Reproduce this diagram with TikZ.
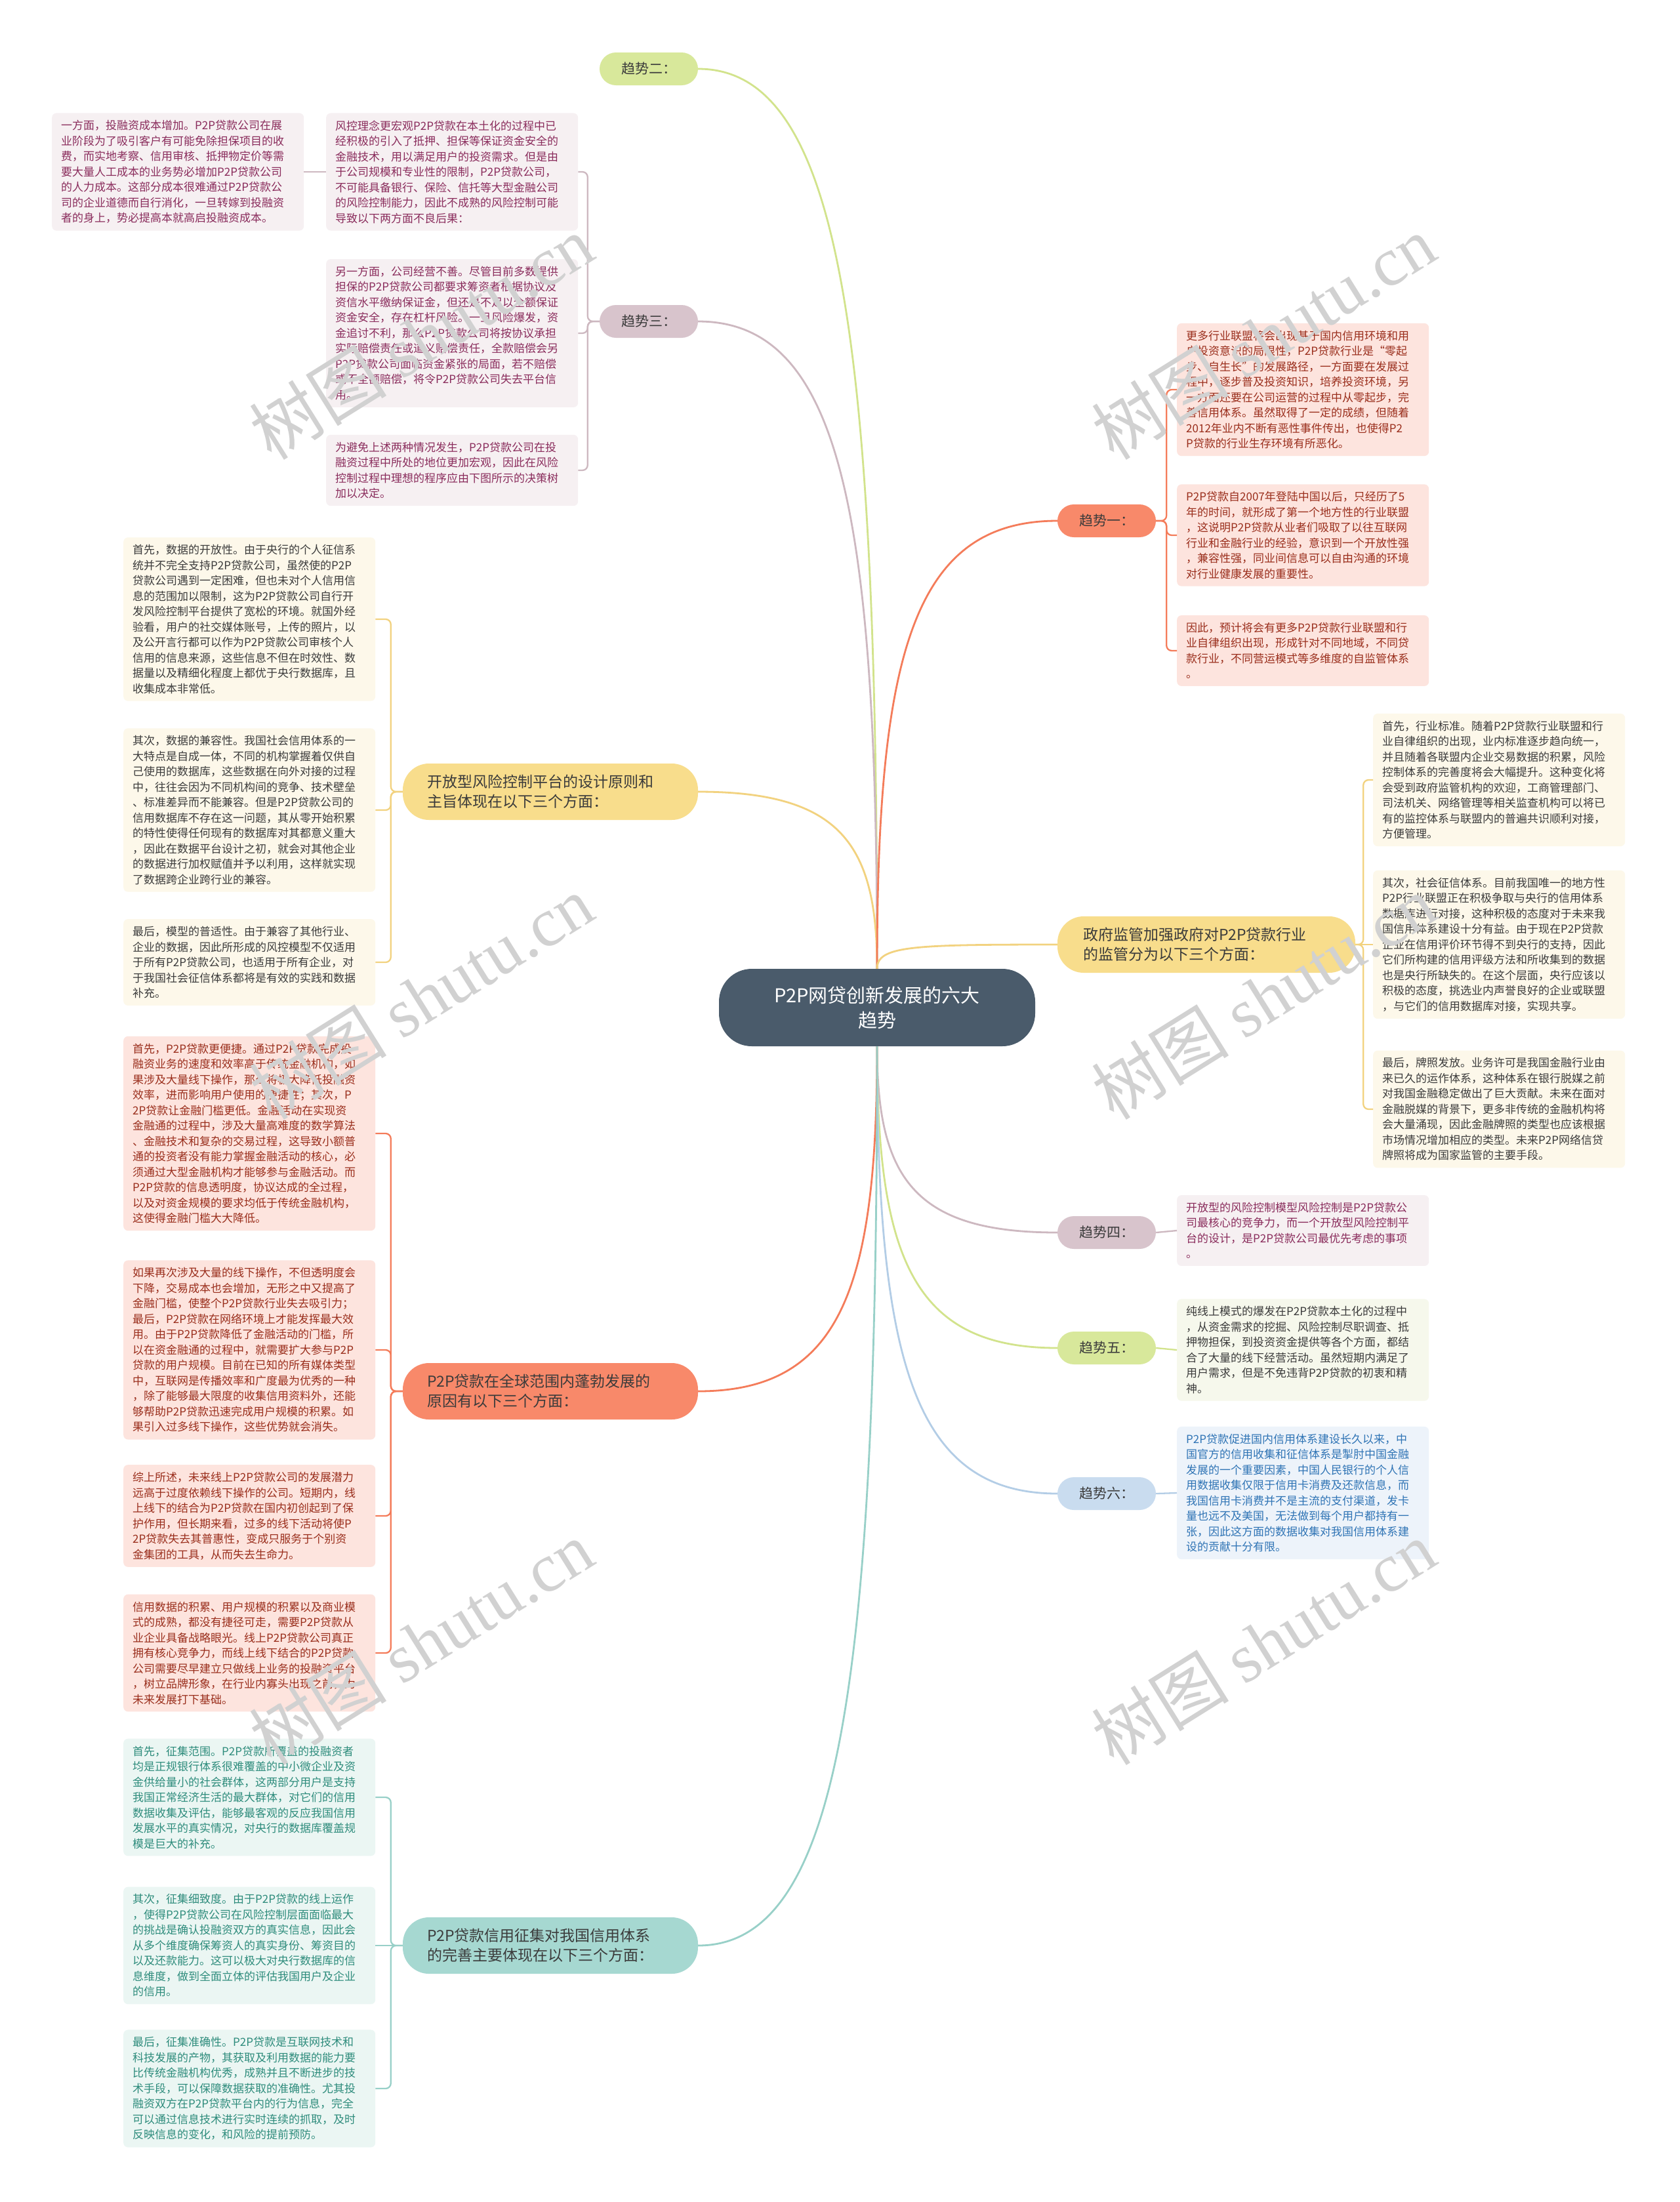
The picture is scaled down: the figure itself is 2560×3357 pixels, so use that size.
\documentclass[tikz,border=0pt]{standalone}
\usepackage{fontspec}
\setmainfont{Noto Sans CJK SC}
\newfontfamily\wmserif{Liberation Serif}
\definecolor{rootc}{HTML}{4A5B6B}
\definecolor{orangeN}{HTML}{F8896A}
\definecolor{orangeL}{HTML}{F47C5A}
\definecolor{orangeBg}{HTML}{FDE4DE}
\definecolor{orangeTx}{HTML}{9A2E1C}
\definecolor{yellowN}{HTML}{F8DD8C}
\definecolor{yellowL}{HTML}{F2D27F}
\definecolor{yellowBg}{HTML}{FDF8EA}
\definecolor{darkTx}{HTML}{3B3B3B}
\definecolor{mauveN}{HTML}{D8C4CC}
\definecolor{mauveL}{HTML}{CDB8C0}
\definecolor{mauveBg}{HTML}{F6F0F2}
\definecolor{mauveTx}{HTML}{8A2C5C}
\definecolor{greenN}{HTML}{D8E89B}
\definecolor{greenL}{HTML}{D2E38C}
\definecolor{greenBg}{HTML}{F6F8EC}
\definecolor{blueN}{HTML}{C9DCEF}
\definecolor{blueL}{HTML}{B3CDE6}
\definecolor{blueBg}{HTML}{EDF3FA}
\definecolor{blueTx}{HTML}{2F74B5}
\definecolor{tealN}{HTML}{A6D8D1}
\definecolor{tealL}{HTML}{98D0C8}
\definecolor{tealBg}{HTML}{EBF6F3}
\definecolor{tealTx}{HTML}{2E8C7C}
\begin{document}
\begin{tikzpicture}[x=1pt, y=-1pt,
    root/.style={fill=rootc, text=white, rounded corners=50pt, minimum width=482pt, minimum height=118pt,
      text width=350pt, align=center, font=\fontsize{29}{38}\selectfont},
    trend/.style={rounded corners=25pt, minimum width=150pt, minimum height=50pt, text=darkTx,
      font=\fontsize{21}{26}\selectfont},
    topic/.style={rounded corners=40pt, minimum width=450pt, minimum height=86pt, text width=376pt,
      align=left, text=darkTx, font=\fontsize{23}{30}\selectfont},
    leaf/.style={rounded corners=7pt, text width=356pt, inner xsep=14pt, inner ysep=11pt, align=left,
      font=\fontsize{17}{23.5}\selectfont},
    redleaf/.style={leaf, fill=orangeBg, text=orangeTx},
    yelleaf/.style={leaf, fill=yellowBg, text=darkTx},
    plumleaf/.style={leaf, fill=mauveBg, text=mauveTx},
    grnleaf/.style={leaf, fill=greenBg, text=darkTx},
    bluleaf/.style={leaf, fill=blueBg, text=blueTx},
    tealleaf/.style={leaf, fill=tealBg, text=tealTx},
    link/.style={line width=2.8pt},
    bracket/.style={line width=2.3pt, rounded corners=8pt},
    wmark/.style={rotate=32, text=black!18, font=\fontsize{105}{110}\selectfont}]

\useasboundingbox (0,0) rectangle (2560,3357);
\clip (0,0) rectangle (2560,3357);
\fill[white] (0,0) rectangle (2560,3357);

\node[root] (ctr) at (1337,1536) {P2P网贷创新发展的六大\\趋势};

% right side
\node[trend, fill=orangeN] (t1) at (1687,794) {趋势一：};
\node[topic, fill=yellowN, minimum width=454pt] (gov) at (1839,1440) {政府监管加强政府对P2P贷款行业\\的监管分为以下三个方面：};
\node[trend, fill=mauveN] (t4) at (1687,1879) {趋势四：};
\node[trend, fill=greenN] (t5) at (1687,2055) {趋势五：};
\node[trend, fill=blueN] (t6) at (1687,2277) {趋势六：};

% left side
\node[trend, fill=greenN] (t2) at (989,105) {趋势二：};
\node[trend, fill=mauveN] (t3) at (989,490) {趋势三：};
\node[topic, fill=yellowN] (open) at (839,1207) {开放型风险控制平台的设计原则和\\主旨体现在以下三个方面：};
\node[topic, fill=orangeN] (glob) at (839,2121) {P2P贷款在全球范围内蓬勃发展的\\原因有以下三个方面：};
\node[topic, fill=tealN] (cred) at (839,2966) {P2P贷款信用征集对我国信用体系\\的完善主要体现在以下三个方面：};

\node[redleaf, anchor=west] (c1a) at (1794,594) {更多行业联盟将会出现基于国内信用环境和用\\户投资意识的局限性，P2P贷款行业是“零起\\步、自生长”的发展路径，一方面要在发展过\\程中，逐步普及投资知识，培养投资环境，另\\一方面还要在公司运营的过程中从零起步，完\\善信用体系。虽然取得了一定的成绩，但随着\\2012年业内不断有恶性事件传出，也使得P2\\P贷款的行业生存环境有所恶化。};
\node[redleaf, anchor=west] (c1b) at (1794,816) {P2P贷款自2007年登陆中国以后，只经历了5\\年的时间，就形成了第一个地方性的行业联盟\\，这说明P2P贷款从业者们吸取了以往互联网\\行业和金融行业的经验，意识到一个开放性强\\，兼容性强，同业间信息可以自由沟通的环境\\对行业健康发展的重要性。};
\node[redleaf, anchor=west] (c1c) at (1794,992) {因此，预计将会有更多P2P贷款行业联盟和行\\业自律组织出现，形成针对不同地域，不同贷\\款行业，不同营运模式等多维度的自监管体系\\。};

\node[yelleaf, anchor=west] (c2a) at (2093,1189) {首先，行业标准。随着P2P贷款行业联盟和行\\业自律组织的出现，业内标准逐步趋向统一，\\并且随着各联盟内企业交易数据的积累，风险\\控制体系的完善度将会大幅提升。这种变化将\\会受到政府监管机构的欢迎，工商管理部门、\\司法机关、网络管理等相关监查机构可以将已\\有的监控体系与联盟内的普遍共识顺利对接，\\方便管理。};
\node[yelleaf, anchor=west] (c2b) at (2093,1440) {其次，社会征信体系。目前我国唯一的地方性\\P2P行业联盟正在积极争取与央行的信用体系\\数据库进行对接，这种积极的态度对于未来我\\国信用体系建设十分有益。由于现在P2P贷款\\企业在信用评价环节得不到央行的支持，因此\\它们所构建的信用评级方法和所收集到的数据\\也是央行所缺失的。在这个层面，央行应该以\\积极的态度，挑选业内声誉良好的企业或联盟\\，与它们的信用数据库对接，实现共享。};
\node[yelleaf, anchor=west] (c2c) at (2093,1691) {最后，牌照发放。业务许可是我国金融行业由\\来已久的运作体系，这种体系在银行脱媒之前\\对我国金融稳定做出了巨大贡献。未来在面对\\金融脱媒的背景下，更多非传统的金融机构将\\会大量涌现，因此金融牌照的类型也应该根据\\市场情况增加相应的类型。未来P2P网络信贷\\牌照将成为国家监管的主要手段。};

\node[plumleaf, anchor=west] (c7) at (1794,1876) {开放型的风险控制模型风险控制是P2P贷款公\\司最核心的竞争力，而一个开放型风险控制平\\台的设计，是P2P贷款公司最优先考虑的事项\\。};
\node[grnleaf, anchor=west] (c8) at (1794,2058) {纯线上模式的爆发在P2P贷款本土化的过程中\\，从资金需求的挖掘、风险控制尽职调查、抵\\押物担保，到投资资金提供等各个方面，都结\\合了大量的线下经营活动。虽然短期内满足了\\用户需求，但是不免违背P2P贷款的初衷和精\\神。};
\node[bluleaf, anchor=west] (c9) at (1794,2276) {P2P贷款促进国内信用体系建设长久以来，中\\国官方的信用收集和征信体系是掣肘中国金融\\发展的一个重要因素，中国人民银行的个人信\\用数据收集仅限于信用卡消费及还款信息，而\\我国信用卡消费并不是主流的支付渠道，发卡\\量也远不及美国，无法做到每个用户都持有一\\张，因此这方面的数据收集对我国信用体系建\\设的贡献十分有限。};

\node[plumleaf, anchor=west] (c3a) at (497,262) {风控理念更宏观P2P贷款在本土化的过程中已\\经积极的引入了抵押、担保等保证资金安全的\\金融技术，用以满足用户的投资需求。但是由\\于公司规模和专业性的限制，P2P贷款公司，\\不可能具备银行、保险、信托等大型金融公司\\的风险控制能力，因此不成熟的风险控制可能\\导致以下两方面不良后果：};
\node[plumleaf, anchor=west] (c3a1) at (79,262) {一方面，投融资成本增加。P2P贷款公司在展\\业阶段为了吸引客户有可能免除担保项目的收\\费，而实地考察、信用审核、抵押物定价等需\\要大量人工成本的业务势必增加P2P贷款公司\\的人力成本。这部分成本很难通过P2P贷款公\\司的企业道德而自行消化，一旦转嫁到投融资\\者的身上，势必提高本就高启投融资成本。};
\node[plumleaf, anchor=west] (c3b) at (497,508) {另一方面，公司经营不善。尽管目前多数提供\\担保的P2P贷款公司都要求筹资者根据协议及\\资信水平缴纳保证金，但还是不足以全额保证\\资金安全，存在杠杆风险。一旦风险爆发，资\\金追讨不利，那么P2P贷款公司将按协议承担\\实际赔偿责任或道义赔偿责任，全款赔偿会另\\P2P贷款公司面临资金紧张的局面，若不赔偿\\或不全额赔偿，将令P2P贷款公司失去平台信\\用。};
\node[plumleaf, anchor=west] (c3c) at (497,717) {为避免上述两种情况发生，P2P贷款公司在投\\融资过程中所处的地位更加宏观，因此在风险\\控制过程中理想的程序应由下图所示的决策树\\加以决定。};

\node[yelleaf, anchor=west] (c4a) at (188,944) {首先，数据的开放性。由于央行的个人征信系\\统并不完全支持P2P贷款公司，虽然使的P2P\\贷款公司遇到一定困难，但也未对个人信用信\\息的范围加以限制，这为P2P贷款公司自行开\\发风险控制平台提供了宽松的环境。就国外经\\验看，用户的社交媒体账号，上传的照片，以\\及公开言行都可以作为P2P贷款公司审核个人\\信用的信息来源，这些信息不但在时效性、数\\据量以及精细化程度上都优于央行数据库，且\\收集成本非常低。};
\node[yelleaf, anchor=west] (c4b) at (188,1235) {其次，数据的兼容性。我国社会信用体系的一\\大特点是自成一体，不同的机构掌握着仅供自\\己使用的数据库，这些数据在向外对接的过程\\中，往往会因为不同机构间的竞争、技术壁垒\\、标准差异而不能兼容。但是P2P贷款公司的\\信用数据库不存在这一问题，其从零开始积累\\的特性使得任何现有的数据库对其都意义重大\\，因此在数据平台设计之初，就会对其他企业\\的数据进行加权赋值并予以利用，这样就实现\\了数据跨企业跨行业的兼容。};
\node[yelleaf, anchor=west] (c4c) at (188,1467) {最后，模型的普适性。由于兼容了其他行业、\\企业的数据，因此所形成的风控模型不仅适用\\于所有P2P贷款公司，也适用于所有企业，对\\于我国社会征信体系都将是有效的实践和数据\\补充。};

\node[redleaf, anchor=west] (c5a) at (188,1728) {首先，P2P贷款更便捷。通过P2P贷款完成投\\融资业务的速度和效率高于传统金融机构，如\\果涉及大量线下操作，那么将极大降低投融资\\效率，进而影响用户使用的便捷性；其次，P\\2P贷款让金融门槛更低。金融活动在实现资\\金融通的过程中，涉及大量高难度的数学算法\\、金融技术和复杂的交易过程，这导致小额普\\通的投资者没有能力掌握金融活动的核心，必\\须通过大型金融机构才能够参与金融活动。而\\P2P贷款的信息透明度，协议达成的全过程，\\以及对资金规模的要求均低于传统金融机构，\\这使得金融门槛大大降低。};
\node[redleaf, anchor=west] (c5b) at (188,2058) {如果再次涉及大量的线下操作，不但透明度会\\下降，交易成本也会增加，无形之中又提高了\\金融门槛，使整个P2P贷款行业失去吸引力；\\最后，P2P贷款在网络环境上才能发挥最大效\\用。由于P2P贷款降低了金融活动的门槛，所\\以在资金融通的过程中，就需要扩大参与P2P\\贷款的用户规模。目前在已知的所有媒体类型\\中，互联网是传播效率和广度最为优秀的一种\\，除了能够最大限度的收集信用资料外，还能\\够帮助P2P贷款迅速完成用户规模的积累。如\\果引入过多线下操作，这些优势就会消失。};
\node[redleaf, anchor=west] (c5c) at (188,2311) {综上所述，未来线上P2P贷款公司的发展潜力\\远高于过度依赖线下操作的公司。短期内，线\\上线下的结合为P2P贷款在国内初创起到了保\\护作用，但长期来看，过多的线下活动将使P\\2P贷款失去其普惠性，变成只服务于个别资\\金集团的工具，从而失去生命力。};
\node[redleaf, anchor=west] (c5d) at (188,2520) {信用数据的积累、用户规模的积累以及商业模\\式的成熟，都没有捷径可走，需要P2P贷款从\\业企业具备战略眼光。线上P2P贷款公司真正\\拥有核心竞争力，而线上线下结合的P2P贷款\\公司需要尽早建立只做线上业务的投融资平台\\，树立品牌形象，在行业内寡头出现之前，为\\未来发展打下基础。};

\node[tealleaf, anchor=west] (c6a) at (188,2740) {首先，征集范围。P2P贷款所覆盖的投融资者\\均是正规银行体系很难覆盖的中小微企业及资\\金供给量小的社会群体，这两部分用户是支持\\我国正常经济生活的最大群体，对它们的信用\\数据收集及评估，能够最客观的反应我国信用\\发展水平的真实情况，对央行的数据库覆盖规\\模是巨大的补充。};
\node[tealleaf, anchor=west] (c6b) at (188,2966) {其次，征集细致度。由于P2P贷款的线上运作\\，使得P2P贷款公司在风险控制层面面临最大\\的挑战是确认投融资双方的真实信息，因此会\\从多个维度确保筹资人的真实身份、筹资目的\\以及还款能力。这可以极大对央行数据库的信\\息维度，做到全面立体的评估我国用户及企业\\的信用。};
\node[tealleaf, anchor=west] (c6c) at (188,3184) {最后，征集准确性。P2P贷款是互联网技术和\\科技发展的产物，其获取及利用数据的能力要\\比传统金融机构优秀，成熟并且不断进步的技\\术手段，可以保障数据获取的准确性。尤其投\\融资双方在P2P贷款平台内的行为信息，完全\\可以通过信息技术进行实时连续的抓取，及时\\反映信息的变化，和风险的提前预防。};

% branches out of the root
\draw[link, greenL] (ctr.north) .. controls +(0,-960) and +(218,0) .. (t2.east);
\draw[link, mauveL] (ctr.north) .. controls +(0,-691) and +(218,0) .. (t3.east);
\draw[link, yellowL] (ctr.north) .. controls +(0,-189) and +(218,0) .. (open.east);
\draw[link, orangeL] (ctr.north) .. controls +(0,-478) and +(-220,0) .. (t1.west);
\draw[link, yellowL] (ctr.north) .. controls +(0,-35) and +(-220,0) .. (gov.west);
\draw[link, mauveL] (ctr.south) .. controls +(0,199) and +(-220,0) .. (t4.west);
\draw[link, greenL] (ctr.south) .. controls +(0,322) and +(-220,0) .. (t5.west);
\draw[link, blueL] (ctr.south) .. controls +(0,477) and +(-220,0) .. (t6.west);
\draw[link, orangeL] (ctr.south) .. controls +(0,368) and +(218,0) .. (glob.east);
\draw[link, tealL] (ctr.south) .. controls +(0,960) and +(218,0) .. (cred.east);

% brackets to the leaves
\foreach \leaf in {c1a,c1b,c1c}
  \draw[bracket, orangeL] (t1.east) -- ++(16,0) |- (\leaf.west);
\draw[bracket, yellowL] (gov.east) -- ++(12,0) |- (c2a.west);
\draw[bracket, yellowL] (gov.east) -- (c2b.west);
\draw[bracket, yellowL] (gov.east) -- ++(12,0) |- (c2c.west);
\draw[bracket, mauveL] (t4.east) -- (c7.west);
\draw[bracket, greenL] (t5.east) -- (c8.west);
\draw[bracket, blueL] (t6.east) -- (c9.west);
\foreach \leaf in {c3a,c3b,c3c}
  \draw[bracket, mauveL] (t3.west) -- ++(-18,0) |- (\leaf.east);
\draw[bracket, mauveL] (c3a.west) -- (c3a1.east);
\foreach \leaf in {c4a,c4b,c4c}
  \draw[bracket, yellowL] (open.west) -- ++(-18,0) |- (\leaf.east);
\foreach \leaf in {c5a,c5b,c5c,c5d}
  \draw[bracket, orangeL] (glob.west) -- ++(-18,0) |- (\leaf.east);
\draw[bracket, tealL] (cred.west) -- ++(-18,0) |- (c6a.east);
\draw[bracket, tealL] (cred.west) -- (c6b.east);
\draw[bracket, tealL] (cred.west) -- ++(-18,0) |- (c6c.east);

\foreach \wx/\wy [count=\i] in {642/514, 1926/514, 642/1520, 1926/1520, 642/2504, 1926/2504}
  \node[wmark] (wm\i) at (\wx,\wy) {树图 {\wmserif shutu.cn}};
\end{tikzpicture}
\end{document}
